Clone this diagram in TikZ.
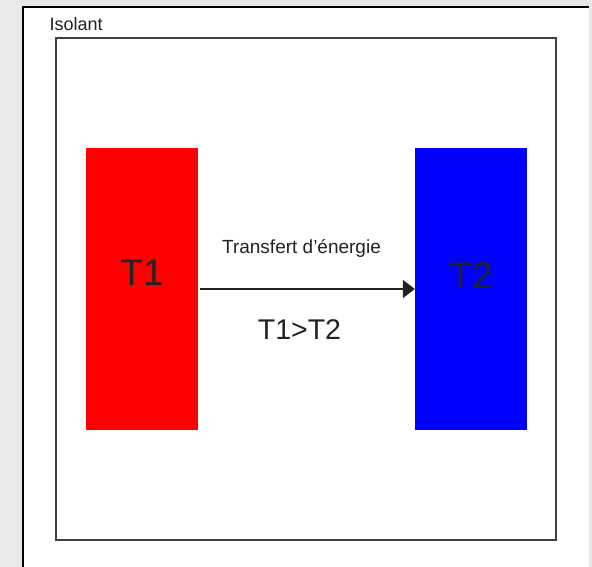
\documentclass[tikz,border=0pt]{standalone}
\usepackage{fontspec}
\setmainfont{Liberation Sans}
\usetikzlibrary{positioning,arrows.meta}
\definecolor{bggray}{HTML}{E9E9E9}
\definecolor{ink}{HTML}{222222}

\begin{document}
\begin{tikzpicture}[x=1pt,y=-1pt,node distance=329pt,on grid,
    body/.style={rectangle, minimum width=112pt, minimum height=282pt, inner sep=0pt},
    hot/.style={body, fill=red},
    cold/.style={body, fill=blue},
    temp/.style={text=ink, inner sep=0pt, font=\fontsize{37}{40}\selectfont},
    caption/.style={text=ink, inner sep=0pt}
    ]

    \fill[bggray] (0,0) rectangle (592,567);
    \useasboundingbox (0,0) rectangle (592,567);
    \fill[white] (23,7) rectangle (589,567);
    \draw[line width=1.5pt] (23,567) -- (23,7) -- (589,7);

    \node[draw=black!75, line width=1.5pt, minimum width=500pt, minimum height=502pt, inner sep=0pt] (iso) at (306,289) {};
    \node[caption, anchor=base west, font=\fontsize{18}{20}\selectfont] (iso_lbl) at (49.5,31) {Isolant};

    \node[hot] (t_1) at (142,289) {};
    \node[cold] (t_2) [right=of t_1] {};

    \node[temp] (t_1_lbl) at ([yshift=16.5pt]t_1.center) {T1};
    \node[temp] (t_2_lbl) at ([yshift=13.5pt]t_2.center) {T2};

    \draw[-{Triangle[length=12pt,width=18pt]}, line width=2pt, ink, shorten <=2pt] (t_1.east) -- (t_2.west)
        node[midway, anchor=base, yshift=36pt, xshift=-5pt, caption, font=\fontsize{19}{21}\selectfont] (flux) {Transfert d'énergie}
        node[midway, anchor=base, yshift=-50pt, xshift=-7pt, caption, font=\fontsize{28.5}{30}\selectfont] (cmp) {T1>T2};
\end{tikzpicture}
\end{document}
